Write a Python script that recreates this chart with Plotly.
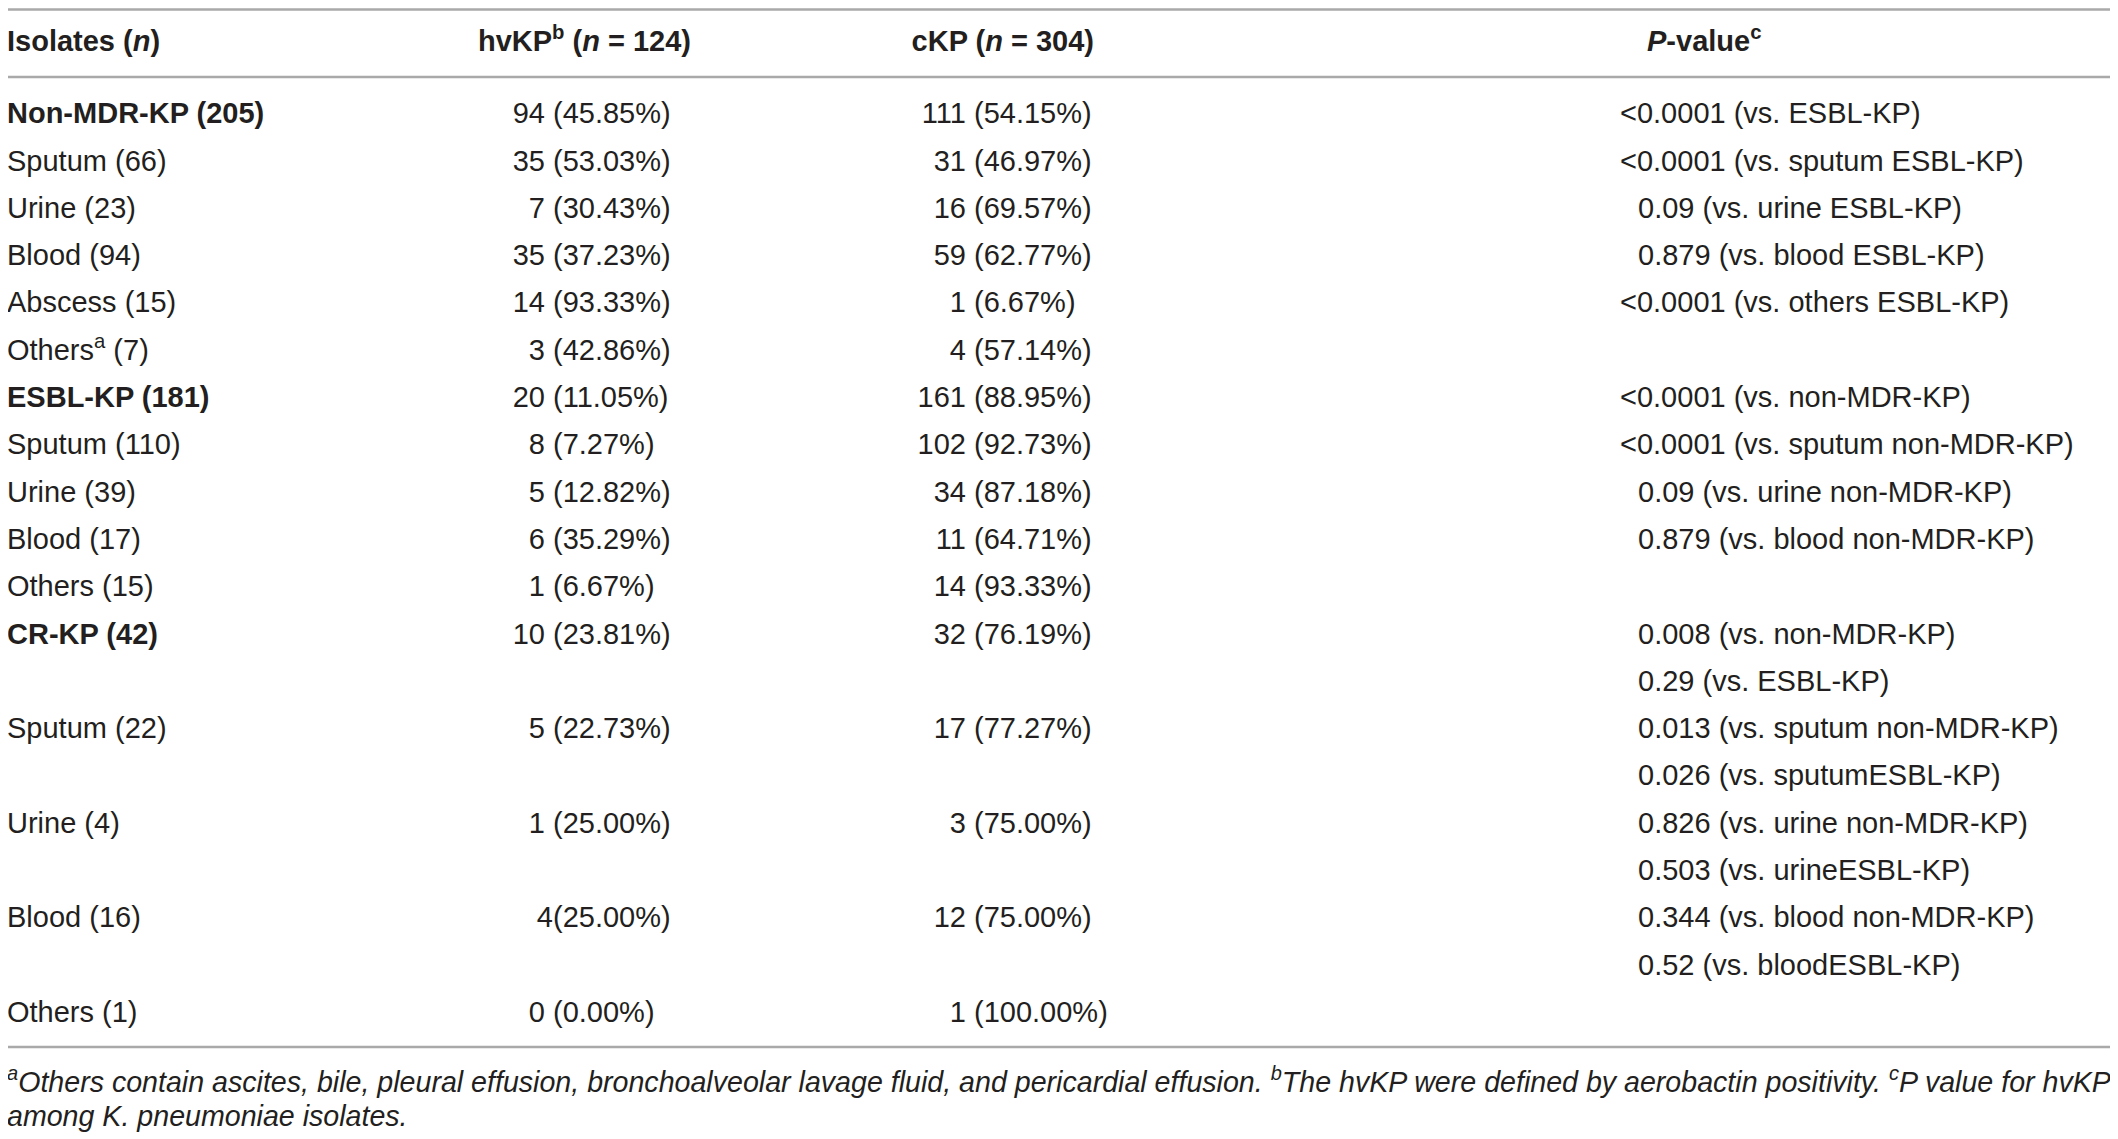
import plotly.graph_objects as go

# table content, one entry per printed row ("" = empty cell)
isolates = ["Non-MDR-KP (205)", "Sputum (66)", "Urine (23)", "Blood (94)", "Abscess (15)",
            "Others<sup>a</sup> (7)", "ESBL-KP (181)", "Sputum (110)", "Urine (39)", "Blood (17)",
            "Others (15)", "CR-KP (42)", "", "Sputum (22)", "", "Urine (4)", "", "Blood (16)", "",
            "Others (1)"]
group_rows = [0, 6, 11]
hvkp = ["94 (45.85%)", "35 (53.03%)", "7 (30.43%)", "35 (37.23%)", "14 (93.33%)", "3 (42.86%)",
        "20 (11.05%)", "8 (7.27%)", "5 (12.82%)", "6 (35.29%)", "1 (6.67%)", "10 (23.81%)", "",
        "5 (22.73%)", "", "1 (25.00%)", "", "4(25.00%)", "", "0 (0.00%)"]
ckp = ["111 (54.15%)", "31 (46.97%)", "16 (69.57%)", "59 (62.77%)", "1 (6.67%)", "4 (57.14%)",
       "161 (88.95%)", "102 (92.73%)", "34 (87.18%)", "11 (64.71%)", "14 (93.33%)", "32 (76.19%)", "",
       "17 (77.27%)", "", "3 (75.00%)", "", "12 (75.00%)", "", "1 (100.00%)"]
pvalues = ["<0.0001 (vs. ESBL-KP)", "<0.0001 (vs. sputum ESBL-KP)", "0.09 (vs. urine ESBL-KP)",
           "0.879 (vs. blood ESBL-KP)", "<0.0001 (vs. others ESBL-KP)", "",
           "<0.0001 (vs. non-MDR-KP)", "<0.0001 (vs. sputum non-MDR-KP)", "0.09 (vs. urine non-MDR-KP)",
           "0.879 (vs. blood non-MDR-KP)", "", "0.008 (vs. non-MDR-KP)", "0.29 (vs. ESBL-KP)",
           "0.013 (vs. sputum non-MDR-KP)", "0.026 (vs. sputumESBL-KP)", "0.826 (vs. urine non-MDR-KP)",
           "0.503 (vs. urineESBL-KP)", "0.344 (vs. blood non-MDR-KP)", "0.52 (vs. bloodESBL-KP)", ""]
headers = ["<b>Isolates (<i>n</i>)</b>", "<b>hvKP<sup>b</sup> (<i>n</i> = 124)</b>",
           "<b>cKP (<i>n</i> = 304)</b>", "<b><i>P</i>-value<sup>c</sup></b>"]
footnotes = ["<sup>a</sup>Others contain ascites, bile, pleural effusion, bronchoalveolar lavage fluid, "
             "and pericardial effusion. <sup>b</sup>The hvKP were defined by aerobactin positivity. "
             "<sup>c</sup>P value for hvKP",
             "among K. pneumoniae isolates."]

W, H = 2118, 1139
OFF = 8  # page body margin, so axis units equal screen pixels
FONT = "Liberation Sans, Arial, Helvetica, sans-serif"
INK = "#231f20"
RULE = "#a9a9a9"
SIZE = 29

row0, step = 116, 47.3
rows_y = [row0 + i * step for i in range(len(isolates))]

# column anchors (px)
x_iso = 7
x_hv_paren = 553
x_ck_paren = 974
x_p = 1620
p_indent = 18


def split_paren(s):
    # counts right-aligned before "(", percentages left-aligned from it
    left, right = s.split("(", 1)
    return left.replace(" ", "\u00a0"), "(" + right


fig = go.Figure()

def add_text(xs, ys, texts, pos, size=SIZE):
    keep = [(x, y, t) for x, y, t in zip(xs, ys, texts) if t]
    fig.add_trace(go.Scatter(
        x=[k[0] for k in keep], y=[k[1] for k in keep], text=[k[2] for k in keep],
        mode="text", textposition=pos,
        textfont=dict(family=FONT, size=size, color=INK),
        hoverinfo="skip", showlegend=False,
    ))

iso_txt = ["<b>%s</b>" % s if i in group_rows else s for i, s in enumerate(isolates)]
add_text([x_iso] * len(rows_y), rows_y, iso_txt, "middle right")

for col, xp in ((hvkp, x_hv_paren), (ckp, x_ck_paren)):
    parts = [split_paren(s) if s else ("", "") for s in col]
    add_text([xp] * len(rows_y), rows_y, [p[0] for p in parts], "middle left")
    add_text([xp] * len(rows_y), rows_y, [p[1] for p in parts], "middle right")

px_ = [x_p if s.startswith("<") else x_p + p_indent for s in pvalues]
add_text(px_, rows_y, [s.replace("<", "&lt;") for s in pvalues], "middle right")

# header row
y_head = 44
add_text([x_iso], [y_head], [headers[0]], "middle right")
add_text([691], [y_head], [headers[1]], "middle left")
add_text([1094], [y_head], [headers[2]], "middle left")
add_text([1647], [y_head], [headers[3]], "middle right")

# footnotes
add_text([x_iso, x_iso], [1085, 1119], ["<i>%s</i>" % f for f in footnotes], "middle right", size=28.6)

# horizontal rules
for yl in (9.5, 77, 1047):
    fig.add_shape(type="line", x0=7, x1=2112, y0=yl, y1=yl,
                  line=dict(color=RULE, width=2.5))

fig.update_layout(
    width=W, height=H,
    margin=dict(l=0, r=0, t=0, b=0),
    paper_bgcolor="white", plot_bgcolor="white",
    xaxis=dict(range=[OFF, W + OFF], visible=False, fixedrange=True),
    yaxis=dict(range=[H + OFF, OFF], visible=False, fixedrange=True),
)

fig.write_html("out.html")
